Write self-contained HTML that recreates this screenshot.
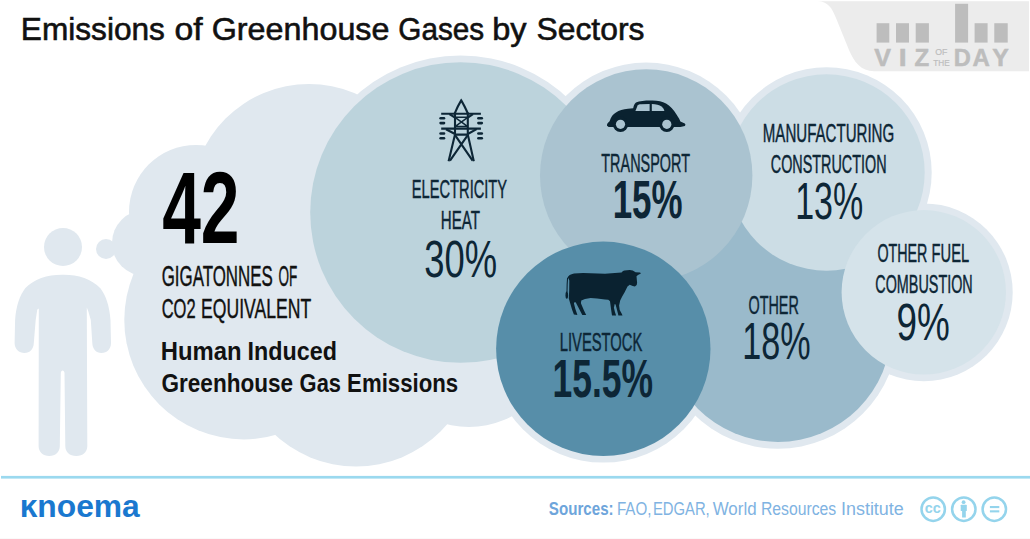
<!DOCTYPE html>
<html><head><meta charset="utf-8">
<style>
html,body{margin:0;padding:0;background:#fff;}
body{width:1030px;height:539px;overflow:hidden;position:relative;font-family:"Liberation Sans",sans-serif;}
svg{position:absolute;left:0;top:0;display:block;}
text{font-family:"Liberation Sans",sans-serif;}
</style></head><body>
<svg width="1030" height="539" viewBox="0 0 1030 539">
<rect width="1030" height="539" fill="#fff"/>
<!-- VIZ OF THE DAY tab -->
<path id="viztab" d="M817.4,1.2 C828,1.2 832,8 836,18 L849,50 C854,62 861,71.2 874,71.2 L1029,71.2 L1029,1.2 Z" fill="#ececec"/>
<g fill="#bdbdbd">
<rect x="876.6" y="23.2" width="12.7" height="19.4"/>
<rect x="896" y="23.2" width="13" height="19.4"/>
<rect x="915.7" y="23.2" width="13.2" height="19.4"/>
<rect x="955.1" y="3.8" width="13" height="38.8"/>
<rect x="974.6" y="23.2" width="13" height="19.4"/>
<rect x="994.3" y="23.2" width="13.4" height="19.4"/>
</g>
<text x="874.28" y="65.6" font-size="23.8" font-weight="bold" fill="#bdbdbd" stroke="#bdbdbd" stroke-width="0.5" textLength="16.74" lengthAdjust="spacingAndGlyphs">V</text>
<text x="898.65" y="65.6" font-size="23.8" font-weight="bold" fill="#bdbdbd" stroke="#bdbdbd" stroke-width="0.5" textLength="7.91" lengthAdjust="spacingAndGlyphs">I</text>
<text x="914.53" y="65.6" font-size="23.8" font-weight="bold" fill="#bdbdbd" stroke="#bdbdbd" stroke-width="0.5" textLength="14.71" lengthAdjust="spacingAndGlyphs">Z</text>
<text x="953.87" y="65.6" font-size="23.8" font-weight="bold" fill="#bdbdbd" stroke="#bdbdbd" stroke-width="0.5" textLength="17.07" lengthAdjust="spacingAndGlyphs">D</text>
<text x="972.45" y="65.6" font-size="23.8" font-weight="bold" fill="#bdbdbd" stroke="#bdbdbd" stroke-width="0.5" textLength="17.33" lengthAdjust="spacingAndGlyphs">A</text>
<text x="992.33" y="65.6" font-size="23.8" font-weight="bold" fill="#bdbdbd" stroke="#bdbdbd" stroke-width="0.5" textLength="16.52" lengthAdjust="spacingAndGlyphs">Y</text>
<text x="935.19" y="55.3" font-size="8.6" fill="#bdbdbd" stroke="#bdbdbd" stroke-width="0.2" textLength="12.17" lengthAdjust="spacingAndGlyphs">OF</text>
<text x="933.32" y="65.6" font-size="8.6" fill="#bdbdbd" stroke="#bdbdbd" stroke-width="0.2" textLength="16.44" lengthAdjust="spacingAndGlyphs">THE</text>

<!-- cloud layer -->
<g fill="#e0e8ef">
<circle cx="63" cy="247" r="19"/>
<circle cx="106" cy="249" r="10"/>
<circle cx="145" cy="243" r="33"/>
<circle cx="196" cy="212" r="67"/>
<circle cx="309" cy="202" r="118"/>
<circle cx="243.7" cy="320" r="119.4"/>
<circle cx="356" cy="347" r="119.5"/>
<circle cx="469" cy="336" r="91"/>
<rect x="200" y="200" width="300" height="200"/>
<!-- rings -->
<circle cx="460.5" cy="212.5" r="157"/>
<circle cx="778" cy="328.5" r="120.2"/>
<circle cx="826.5" cy="172.5" r="105.2"/>
<circle cx="646.2" cy="175.5" r="113"/>
<circle cx="923.8" cy="292.3" r="88.9"/>
<circle cx="603.3" cy="348.8" r="113.8"/>
</g>
<!-- bubbles -->
<circle cx="460.5" cy="212.5" r="150.3" fill="#bcd3dc"/>
<circle cx="778" cy="328.5" r="113.4" fill="#9abacb"/>
<circle cx="826.5" cy="172.5" r="98.2" fill="#ccdde5"/>
<circle cx="646.2" cy="175.5" r="106.2" fill="#aac3d0"/>
<circle cx="923.8" cy="292.3" r="82.2" fill="#d5e3ea"/>
<circle cx="603.3" cy="348.8" r="107.2" fill="#578ea9"/>

<!-- human -->
<path fill="#e0e8ef" d="M61.6,274.7 L64,274.7 C78,274.7 92,279 100.6,288.6 C106,296 109.5,306 110.5,320 L111,343 C111,349 107,353 101.5,353 C96,353 92.5,349 92.3,343 L90.8,320 L88.2,311 L86.8,307.5 L87.3,446 C87.3,452 83,456 76.3,456 C69.5,456 65.3,452 65.3,446 L64.5,373 C64.3,369.5 61,369.5 60.8,373 L59.8,446 C59.8,452 55.5,456 49.3,456 C43,456 38.6,452 38.6,446 L38.8,308.6 L37.3,309.5 L35.7,320 L33.8,343 C33.6,349 30,353 24.5,353 C19,353 14.6,349 14.6,343 L15.1,320 C16.1,306 19.6,296 25,288.6 C33.6,279 47.6,274.7 61.6,274.7 Z"/>

<!-- texts -->
<text x="20.81" y="39.6" font-size="32" fill="#111" stroke="#111" stroke-width="0.6" textLength="144.14" lengthAdjust="spacingAndGlyphs">Emissions</text>
<text x="174.48" y="39.6" font-size="32" fill="#111" stroke="#111" stroke-width="0.6" textLength="28.17" lengthAdjust="spacingAndGlyphs">of</text>
<text x="211.78" y="39.6" font-size="32" fill="#111" stroke="#111" stroke-width="0.6" textLength="177.66" lengthAdjust="spacingAndGlyphs">Greenhouse</text>
<text x="398.31" y="39.6" font-size="32" fill="#111" stroke="#111" stroke-width="0.6" textLength="85.87" lengthAdjust="spacingAndGlyphs">Gases</text>
<text x="492.20" y="39.6" font-size="32" fill="#111" stroke="#111" stroke-width="0.6" textLength="34.36" lengthAdjust="spacingAndGlyphs">by</text>
<text x="536.45" y="39.6" font-size="32" fill="#111" stroke="#111" stroke-width="0.6" textLength="108.00" lengthAdjust="spacingAndGlyphs">Sectors</text>
<text x="162.15" y="243.0" font-size="101.46" font-weight="bold" fill="#000" textLength="77.34" lengthAdjust="spacingAndGlyphs">42</text>
<text x="161.69" y="286.27" font-size="29.29" fill="#111" stroke="#111" stroke-width="0.45" textLength="111.05" lengthAdjust="spacingAndGlyphs">GIGATONNES</text>
<text x="278.48" y="286.27" font-size="29.29" fill="#111" stroke="#111" stroke-width="0.45" textLength="18.84" lengthAdjust="spacingAndGlyphs">OF</text>
<text x="161.69" y="318.2" font-size="27.9" fill="#111" stroke="#111" stroke-width="0.45" textLength="33.92" lengthAdjust="spacingAndGlyphs">CO2</text>
<text x="201.10" y="318.2" font-size="27.9" fill="#111" stroke="#111" stroke-width="0.45" textLength="110.07" lengthAdjust="spacingAndGlyphs">EQUIVALENT</text>
<text x="160.80" y="360.1" font-size="25.4" font-weight="bold" fill="#111" textLength="80.88" lengthAdjust="spacingAndGlyphs">Human</text>
<text x="247.54" y="360.1" font-size="25.4" font-weight="bold" fill="#111" textLength="89.40" lengthAdjust="spacingAndGlyphs">Induced</text>
<text x="161.47" y="391.7" font-size="25.4" font-weight="bold" fill="#111" textLength="131.70" lengthAdjust="spacingAndGlyphs">Greenhouse</text>
<text x="299.60" y="391.7" font-size="25.4" font-weight="bold" fill="#111" textLength="41.40" lengthAdjust="spacingAndGlyphs">Gas</text>
<text x="347.11" y="391.7" font-size="25.4" font-weight="bold" fill="#111" textLength="111.10" lengthAdjust="spacingAndGlyphs">Emissions</text>
<text x="411.82" y="197.78" font-size="25.8" fill="#0d2636" stroke="#0d2636" stroke-width="0.45" textLength="95.27" lengthAdjust="spacingAndGlyphs">ELECTRICITY</text>
<text x="440.82" y="229.47" font-size="25.36" fill="#0d2636" stroke="#0d2636" stroke-width="0.45" textLength="39.19" lengthAdjust="spacingAndGlyphs">HEAT</text>
<text x="424.31" y="276.5" font-size="50.99" fill="#0d2636" textLength="72.88" lengthAdjust="spacingAndGlyphs">30%</text>
<text x="601.30" y="171.68" font-size="26.09" fill="#0d2636" stroke="#0d2636" stroke-width="0.45" textLength="88.70" lengthAdjust="spacingAndGlyphs">TRANSPORT</text>
<text x="612.70" y="217.9" font-size="53.78" font-weight="bold" fill="#0d2636" textLength="69.92" lengthAdjust="spacingAndGlyphs">15%</text>
<text x="762.80" y="142.38" font-size="25.95" fill="#0d2636" stroke="#0d2636" stroke-width="0.45" textLength="131.40" lengthAdjust="spacingAndGlyphs">MANUFACTURING</text>
<text x="770.80" y="173.33" font-size="25.21" fill="#0d2636" stroke="#0d2636" stroke-width="0.45" textLength="115.75" lengthAdjust="spacingAndGlyphs">CONSTRUCTION</text>
<text x="795.21" y="219.4" font-size="51.69" fill="#0d2636" textLength="68.00" lengthAdjust="spacingAndGlyphs">13%</text>
<text x="877.45" y="262.33" font-size="25.49" fill="#0d2636" stroke="#0d2636" stroke-width="0.45" textLength="49.99" lengthAdjust="spacingAndGlyphs">OTHER</text>
<text x="931.62" y="262.17" font-size="25.36" fill="#0d2636" stroke="#0d2636" stroke-width="0.45" textLength="37.54" lengthAdjust="spacingAndGlyphs">FUEL</text>
<text x="875.29" y="293.33" font-size="25.21" fill="#0d2636" stroke="#0d2636" stroke-width="0.45" textLength="97.45" lengthAdjust="spacingAndGlyphs">COMBUSTION</text>
<text x="896.47" y="339.79" font-size="52.26" fill="#0d2636" textLength="53.35" lengthAdjust="spacingAndGlyphs">9%</text>
<text x="748.44" y="314.41" font-size="26.62" fill="#0d2636" stroke="#0d2636" stroke-width="0.45" textLength="50.40" lengthAdjust="spacingAndGlyphs">OTHER</text>
<text x="742.30" y="359.4" font-size="51.69" fill="#0d2636" textLength="68.42" lengthAdjust="spacingAndGlyphs">18%</text>
<text x="559.72" y="350.88" font-size="25.8" fill="#0d2636" stroke="#0d2636" stroke-width="0.45" textLength="82.62" lengthAdjust="spacingAndGlyphs">LIVESTOCK</text>
<text x="552.46" y="397.0" font-size="54.07" font-weight="bold" fill="#0d2636" textLength="100.67" lengthAdjust="spacingAndGlyphs">15.5%</text>

<!-- pylon -->
<g fill="none" stroke="#0d2636" stroke-width="2.1" stroke-linejoin="miter">
<path d="M454.5,113.8 C457,108 459,104 461.2,100.4 C463.4,104 465.4,108 468,113.8"/>
<path d="M441.2,113.8 L480.9,113.8 M441.2,128.6 L480.9,128.6"/>
<path d="M449.4,114.2 L455,117.5 M473,114.2 L467.8,117.5"/>
<path d="M455,112.5 L455,134.6 M467.8,112.5 L467.8,134.6"/>
<path stroke-width="1.5" d="M455,117.3 L467.8,117.3 M455,126.6 L467.8,126.6 M455,117.3 L467.8,126.6 M467.8,117.3 L455,126.6"/>
<path d="M446,129.2 L455,134 M476.6,129.2 L467.8,134 M455,134.6 L467.8,134.6"/>
<path d="M455,134.6 L448.6,161.2 M467.8,134.6 L473.8,161.2"/>
<path d="M455.4,135.6 L472.6,160.6 M467.4,135.6 L450,160.6"/>
</g>
<g fill="#0d2636">
<rect x="439.3" y="117" width="6" height="2.6" rx="1.3"/>
<rect x="439.3" y="121.8" width="6" height="2.6" rx="1.3"/>
<rect x="439.3" y="132.2" width="6" height="2.6" rx="1.3"/>
<rect x="439.3" y="137" width="6" height="2.6" rx="1.3"/>
<rect x="477.1" y="117" width="6" height="2.6" rx="1.3"/>
<rect x="477.1" y="121.8" width="6" height="2.6" rx="1.3"/>
<rect x="477.1" y="132.2" width="6" height="2.6" rx="1.3"/>
<rect x="477.1" y="137" width="6" height="2.6" rx="1.3"/>
</g>

<!-- car -->
<g>
<path fill="#0a2230" d="M607,124.7 C607.5,123 608.5,122 609.6,121.2 C611,117 613,114 616,112.5 C619,110.5 623,109.3 628,108.8 L633.2,108.2 C633.8,105.5 634.5,103.8 636,102.6 C640,100.8 646,100.5 652.4,100.6 C658,100.8 662.5,101.8 666,103.4 C670,105.5 673.5,109.5 676.5,114.5 C678.5,117.5 680,120 680.4,121.5 L684.8,123.6 C685.6,124.2 685.6,125.4 684.8,125.9 L680.4,126.9 L608.7,126.9 L607,125.8 Z"/>
<circle cx="620.5" cy="124.2" r="7.7" fill="#0a2230"/>
<circle cx="666.8" cy="124.2" r="7.7" fill="#0a2230"/>
<circle cx="620.5" cy="124.3" r="4.6" fill="#aac3d0"/>
<circle cx="666.8" cy="124.3" r="4.6" fill="#aac3d0"/>
<path fill="#aac3d0" d="M635.4,110.9 L637.6,105.5 C638.2,104.6 639.5,104.3 641,104.2 L649.6,104.1 L649.6,110.9 Z"/>
<path fill="#aac3d0" d="M651.8,104.1 C656,104.1 659.5,105 661.5,106.5 C663,107.8 664,109.3 664.4,110.9 L651.8,110.9 Z"/>
</g>

<!-- cow -->
<g fill="#0a2230">
<path d="M567.6,277.6 C568.3,275.6 570.5,274 574,273.4 L583.2,273.1 L605,273.8 L621.5,272.6 L623,271 L624.5,270.6 L629.7,270.1 L632.7,270.5 L635.6,272.2 L640.1,272.6 L640.9,273.6 L638,275 L636.5,276.2 L636.8,279.5 L637.1,282.8 L636.7,285 L634.9,286.5 L632.7,285.9 L629.7,284.8 L627.5,286.6 L624.5,292.5 L622.3,296.2 L620.2,300.6 L619.1,305.6 L619.7,310 L621.9,313.9 L622.5,315.6 L618.4,315.6 L617.3,311.1 L615.6,304.5 L614.7,303.9 L613.9,307.8 L615,312.3 L616.1,315.6 L612,315.6 L611.1,309.5 L610,301.2 L608.3,299.8 L605,299.5 L597.1,298.6 L590.6,298.1 L585,299.1 L581.3,300.5 L580.9,303.3 L584.1,310.7 L586.2,314.9 L582.3,314.9 L575.8,302.4 L574.8,301.9 L573.9,303.3 L575.3,308.8 L577.4,314.9 L573.9,314.5 L572.1,309.7 L568.8,298.6 L569.2,290 L569.3,280.5 C569,279.2 568.4,278.3 567.6,277.6 Z"/>
<path d="M567.6,277.8 C567.2,282 567,287 567,292" stroke="#0a2230" stroke-width="1.1" fill="none"/>
<ellipse cx="566.8" cy="295.2" rx="1.3" ry="3.6"/>
</g>

<!-- footer -->
<rect x="1" y="475.9" width="1029" height="2.7" fill="#9bd9ef"/>
<rect x="0" y="538" width="1030" height="1" fill="#fafafa"/>
<text x="19.68" y="516.7" font-size="32" font-weight="bold" fill="#1a78cf" textLength="120.12" lengthAdjust="spacingAndGlyphs">ĸnoema</text>
<text x="548.86" y="514.6" font-size="18" font-weight="bold" fill="#6ea5db" textLength="64.79" lengthAdjust="spacingAndGlyphs">Sources:</text>
<text x="616.89" y="514.6" font-size="18" fill="#80b3e2" textLength="34.54" lengthAdjust="spacingAndGlyphs">FAO,</text>
<text x="652.99" y="514.6" font-size="18" fill="#80b3e2" textLength="56.74" lengthAdjust="spacingAndGlyphs">EDGAR,</text>
<text x="712.73" y="514.6" font-size="18" fill="#80b3e2" textLength="43.86" lengthAdjust="spacingAndGlyphs">World</text>
<text x="760.91" y="514.6" font-size="18" fill="#80b3e2" textLength="75.26" lengthAdjust="spacingAndGlyphs">Resources</text>
<text x="841.05" y="514.6" font-size="18" fill="#80b3e2" textLength="62.65" lengthAdjust="spacingAndGlyphs">Institute</text>
<g fill="none" stroke="#94d4ec" stroke-width="2.5">
<circle cx="933.2" cy="509.2" r="11.7"/>
<circle cx="963.8" cy="509.2" r="11.7"/>
<circle cx="994.3" cy="509.2" r="11.7"/>
</g>
<g fill="#94d4ec">
<text x="924.84" y="512.8" font-size="14" font-weight="bold" fill="#94d4ec" textLength="15.98" lengthAdjust="spacingAndGlyphs">cc</text>
<circle cx="963.6" cy="502.2" r="1.9"/>
<rect x="960.7" y="504.7" width="6.1" height="6.4" rx="0.6"/>
<rect x="962.1" y="510.5" width="3.7" height="7"/>
<rect x="989.9" y="506" width="9.4" height="2.1"/>
<rect x="989.9" y="510.3" width="9.4" height="2.1"/>
</g>
</svg>
</body></html>
